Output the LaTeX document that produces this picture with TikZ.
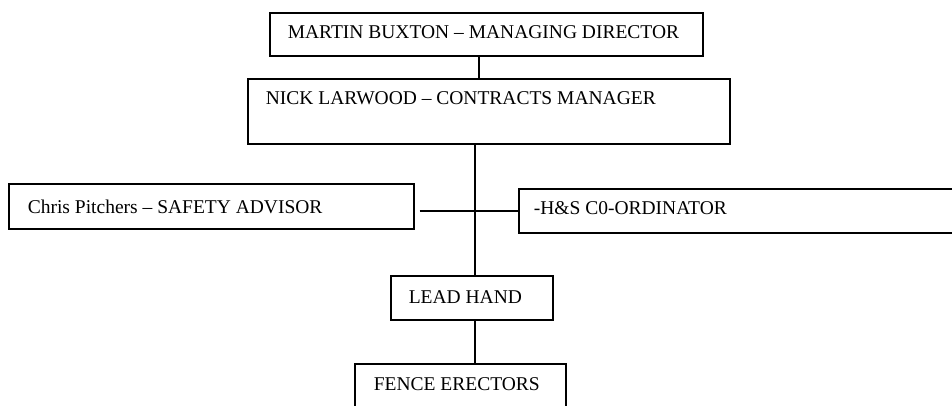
\documentclass[tikz,border=0pt]{standalone}
\usepackage{fontspec}
\setmainfont{Liberation Serif}

\begin{document}
\begin{tikzpicture}[x=0.5pt,y=-0.5pt,every node/.style={font=\fontsize{9.75}{11}\selectfont},
post/.style={draw,line width=0.8pt,anchor=north west,inner ysep=0pt,align=flush left},
link/.style={line width=0.8pt}]
\useasboundingbox (0,0) rectangle (952,406);
\clip (0,0) rectangle (952,406);
\node[post,inner xsep=9pt,text width=198.5pt,text height=13pt,text depth=8.5pt] (md) at (269,12) {MARTIN BUXTON -- MANAGING DIRECTOR};
\node[post,inner xsep=9pt,text width=223pt,text height=13pt,text depth=19.5pt] (cm) at (247,78) {NICK LARWOOD -- CONTRACTS MANAGER};
\node[post,inner xsep=9.5pt,text width=183.5pt,text height=15pt,text depth=7.5pt] (sa) at (8,183) {Chris Pitchers -- SAFETY ADVISOR};
\node[post,inner xsep=7.5pt,text width=220pt,text height=13pt,text depth=9pt] (hs) at (518,188) {-H\&S C0-ORDINATOR};
\node[post,inner xsep=9pt,text width=63pt,text height=14pt,text depth=8pt] (lh) at (390,275) {LEAD HAND};
\node[post,inner xsep=9.5pt,text width=86.5pt,text height=13.5pt,text depth=11.5pt] (fe) at (354,363) {FENCE ERECTORS};
\draw[link] ([xshift=-3.75pt]md.south) -- ([xshift=-3.75pt]md.south |- cm.north);
\draw[link] ([xshift=1.5pt]lh.north |- cm.south) -- ([xshift=1.5pt]lh.north);
\draw[link] ([xshift=2.5pt]sa.east |- hs.west) -- (hs.west);
\draw[link] ([xshift=1.5pt]lh.south) -- ([xshift=1.5pt]lh.south |- fe.north);
\end{tikzpicture}
\end{document}
